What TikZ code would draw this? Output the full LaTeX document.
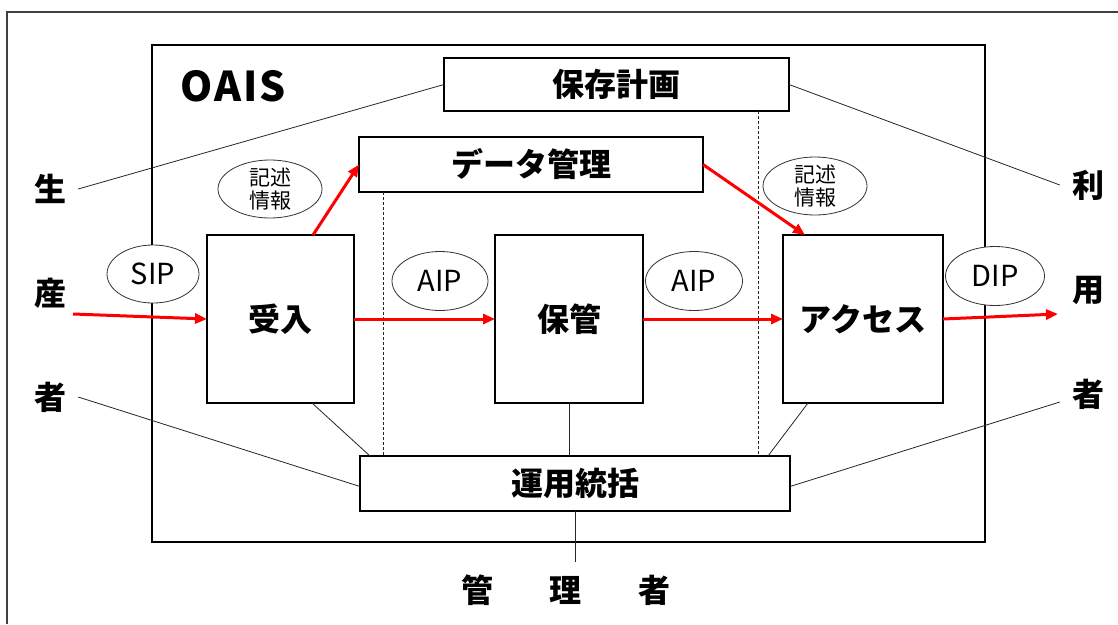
\documentclass[tikz,border=0pt]{standalone}
\usepackage{fontspec}
\setmainfont{Noto Sans CJK JP}
\usetikzlibrary{arrows.meta,calc,shapes.geometric}
\begin{document}
\begin{tikzpicture}[x=1pt,y=-1pt,
  box/.style={draw=black, line width=1.1pt, fill=white, inner sep=0pt, outer sep=0pt, font=\fontsize{32}{36}\selectfont\bfseries},
  oval/.style={draw=black!80, line width=0.8pt, fill=white, ellipse, inner sep=0pt, outer sep=0pt, font=\fontsize{29}{32}\selectfont},
  side/.style={inner sep=12pt, font=\fontsize{32}{36}\selectfont\bfseries},
  conn/.style={draw=black!85, line width=0.8pt},
  dashline/.style={draw=black!85, line width=0.7pt, dash pattern=on 3pt off 2pt},
  flow/.style={draw=red, line width=3pt, -{Triangle[length=12pt,width=10pt]}}
]
\useasboundingbox (0,0) rectangle (1118,624);
\fill[white] (0,0) rectangle (1118,624);
% outer border
\draw[line width=1.1pt, black!75] (7,624) -- (7,12) -- (1118,12);
% OAIS frame
\draw[line width=2pt, black] (152,45) rectangle (985,542);
\node[anchor=west, inner sep=0pt, font=\fontsize{41}{44}\selectfont\bfseries] (oais) at (180,86) {O\kern2pt A\kern2pt I\kern2pt S};

% side labels
\node[side] (sei) at (50,189) {生};
\node[side] (san) at (50,293) {産};
\node[side] (sha1) at (50,397) {者};
\node[side] (ri) at (1088,185) {利};
\node[side] (yo) at (1088,290) {用};
\node[side] (sha2) at (1088,394) {者};
\node[side] (kanri) at (566,590) {管\hspace{57pt}理\hspace{57pt}者};
\coordinate (srcstart) at (73,314);
\coordinate (dstend) at (1058,314);

% boxes
\node[box, minimum width=345pt, minimum height=53pt] (hozon) at (616.5,84.5) {保存計画};
\node[box, minimum width=344pt, minimum height=55pt] (data) at (531,164.5) {データ管理};
\node[box, minimum width=147pt, minimum height=168pt] (ukeire) at (280.5,319) {受入};
\node[box, minimum width=148pt, minimum height=168pt] (hokan) at (569,319) {保管};
\node[box, minimum width=160pt, minimum height=168pt] (access) at (863,319) {アクセス};
\node[box, minimum width=430pt, minimum height=55pt] (unyo) at (575,483.5) {運用統括};

% thin connectors
\draw[conn] (sei.east) -- (hozon.west);
\draw[conn] (hozon.east) -- (ri.west);
\draw[conn] (sha1.east) -- ($(unyo.west)+(0,3)$);
\draw[conn] ($(sha2.west)+(0,8)$) -- ($(unyo.east)+(0,3)$);
\draw[conn] (hokan.south) -- (hokan.south |- unyo.north);
\draw[conn] ($(ukeire.south west)+(105,0)$) -- ($(unyo.north west)+(10,0)$);
\draw[conn] ($(access.south west)+(25,0)$) -- ($(unyo.north east)+(-22,0)$);
\draw[conn] (unyo.south) -- (unyo.south |- kanri.north);
% dashed
\draw[dashline] ($(data.south west)+(24,0)$) -- ($(unyo.north west)+(23,0)$);
\draw[dashline] ($(hozon.south east)+(-31,0)$) -- ($(unyo.north east)+(-32,0)$);

% red flows
\draw[flow] (srcstart) -- (ukeire.west);
\draw[flow] (ukeire.east) -- (hokan.west);
\draw[flow] (hokan.east) -- (access.west);
\draw[flow] (access.east) -- (dstend);
\draw[flow] ($(ukeire.north west)+(106,0)$) -- (data.west);
\draw[flow] (data.east) -- ($(access.north west)+(22,0)$);

% ovals
\node[oval, minimum width=92pt, minimum height=58pt] (sip) at (153,274) {SIP};
\node[oval, minimum width=96pt, minimum height=59pt] (aip1) at (440,281) {AIP};
\node[oval, minimum width=97pt, minimum height=59pt] (aip2) at (694,281) {AIP};
\node[oval, minimum width=99pt, minimum height=59pt] (dip) at (995,276) {DIP};
\node[oval, minimum width=104pt, minimum height=58pt] (kj1) at (270,189) {};
\node[align=center, inner sep=0pt, font=\fontsize{21}{23}\selectfont] (kj1t) at (kj1) {記述\\情報};
\node[oval, minimum width=104pt, minimum height=58pt] (kj2) at (815,186) {};
\node[align=center, inner sep=0pt, font=\fontsize{21}{23}\selectfont] (kj2t) at (kj2) {記述\\情報};
\end{tikzpicture}
\end{document}
